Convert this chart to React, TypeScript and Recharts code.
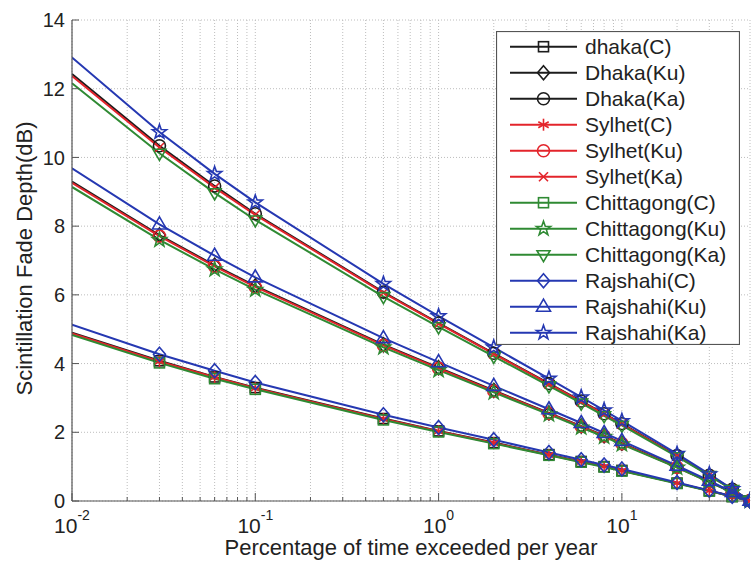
import React from 'react';
import { LineChart, Line, XAxis, YAxis, CartesianGrid, Legend } from 'recharts';

// percentage of time exceeded per year
const percent = [0.01, 0.03, 0.06, 0.1, 0.5, 1, 2, 4, 6, 8, 10, 20, 30, 40, 50];

// C band
const dhakaC = [4.9, 4.08, 3.61, 3.3, 2.4, 2.04, 1.7, 1.35, 1.15, 1.0, 0.89, 0.52, 0.3, 0.13, 0.0];
const sylhetC = [4.88, 4.06, 3.6, 3.28, 2.39, 2.03, 1.69, 1.34, 1.14, 1.0, 0.88, 0.52, 0.3, 0.13, 0.0];
const chittagongC = [4.83, 4.02, 3.56, 3.25, 2.36, 2.01, 1.67, 1.33, 1.13, 0.99, 0.87, 0.51, 0.29, 0.13, 0.0];
const rajshahiC = [5.13, 4.27, 3.79, 3.45, 2.51, 2.14, 1.78, 1.41, 1.2, 1.05, 0.93, 0.54, 0.31, 0.14, 0.0];

// Ku band
const dhakaKu = [9.3, 7.74, 6.86, 6.26, 4.55, 3.88, 3.22, 2.56, 2.18, 1.9, 1.68, 0.99, 0.56, 0.25, 0.01];
const sylhetKu = [9.26, 7.71, 6.83, 6.23, 4.53, 3.86, 3.2, 2.55, 2.17, 1.89, 1.67, 0.98, 0.56, 0.25, 0.01];
const chittagongKu = [9.14, 7.6, 6.74, 6.15, 4.47, 3.81, 3.16, 2.52, 2.14, 1.87, 1.65, 0.97, 0.55, 0.25, 0.01];
const rajshahiKu = [9.68, 8.05, 7.14, 6.51, 4.74, 4.04, 3.35, 2.67, 2.27, 1.98, 1.75, 1.03, 0.59, 0.26, 0.01];

// Ka band
const dhakaKa = [12.43, 10.34, 9.17, 8.36, 6.08, 5.18, 4.3, 3.42, 2.91, 2.54, 2.25, 1.32, 0.75, 0.34, 0.01];
const sylhetKa = [12.37, 10.29, 9.12, 8.33, 6.06, 5.16, 4.28, 3.41, 2.89, 2.53, 2.24, 1.31, 0.75, 0.34, 0.01];
const chittagongKa = [12.16, 10.12, 8.97, 8.18, 5.95, 5.07, 4.21, 3.35, 2.85, 2.48, 2.2, 1.29, 0.74, 0.33, 0.01];
const rajshahiKa = [12.91, 10.74, 9.52, 8.69, 6.32, 5.38, 4.47, 3.56, 3.02, 2.64, 2.33, 1.37, 0.78, 0.35, 0.01];

const xTicks = [
  0.01, 0.02, 0.03, 0.04, 0.05, 0.06, 0.07, 0.08, 0.09,
  0.1, 0.2, 0.3, 0.4, 0.5, 0.6, 0.7, 0.8, 0.9,
  1, 2, 3, 4, 5, 6, 7, 8, 9,
  10, 20, 30, 40,
];
const decades = [0.01, 0.1, 1, 10];
const decadeExps = ['-2', '-1', '0', '1'];
const yTicks = [0, 2, 4, 6, 8, 10, 12, 14];

const BLACK = '#1c1c1c';
const RED = '#e3242b';
const GREEN = '#2f8a33';
const BLUE = '#2538b2';
const AXIS = '#555555';
const FONT = '"Liberation Sans", Arial, Helvetica, sans-serif';

const series = [
  { key: 'dhakaC', name: 'dhaka(C)', values: dhakaC, color: BLACK, marker: 'square' },
  { key: 'dhakaKu', name: 'Dhaka(Ku)', values: dhakaKu, color: BLACK, marker: 'diamond' },
  { key: 'dhakaKa', name: 'Dhaka(Ka)', values: dhakaKa, color: BLACK, marker: 'circle' },
  { key: 'sylhetC', name: 'Sylhet(C)', values: sylhetC, color: RED, marker: 'asterisk' },
  { key: 'sylhetKu', name: 'Sylhet(Ku)', values: sylhetKu, color: RED, marker: 'circle' },
  { key: 'sylhetKa', name: 'Sylhet(Ka)', values: sylhetKa, color: RED, marker: 'x' },
  { key: 'chittagongC', name: 'Chittagong(C)', values: chittagongC, color: GREEN, marker: 'square' },
  { key: 'chittagongKu', name: 'Chittagong(Ku)', values: chittagongKu, color: GREEN, marker: 'star' },
  { key: 'chittagongKa', name: 'Chittagong(Ka)', values: chittagongKa, color: GREEN, marker: 'triDown' },
  { key: 'rajshahiC', name: 'Rajshahi(C)', values: rajshahiC, color: BLUE, marker: 'diamond' },
  { key: 'rajshahiKu', name: 'Rajshahi(Ku)', values: rajshahiKu, color: BLUE, marker: 'triUp' },
  { key: 'rajshahiKa', name: 'Rajshahi(Ka)', values: rajshahiKa, color: BLUE, marker: 'star' },
];

const rows = percent.map((p, i) => {
  const row: Record<string, number> = { p };
  series.forEach((s) => {
    row[s.key] = s.values[i];
  });
  return row;
});

function Marker({ kind, cx, cy, color }: { kind: string; cx: number; cy: number; color: string }) {
  const st = { fill: 'none', stroke: color, strokeWidth: 1.6 };
  switch (kind) {
    case 'square':
      return <rect x={cx - 5} y={cy - 5} width={10} height={10} {...st} />;
    case 'diamond':
      return <polygon points={`${cx},${cy - 7} ${cx + 6},${cy} ${cx},${cy + 7} ${cx - 6},${cy}`} {...st} />;
    case 'circle':
      return <circle cx={cx} cy={cy} r={6} {...st} />;
    case 'asterisk':
      return (
        <g {...st}>
          <line x1={cx} y1={cy - 6} x2={cx} y2={cy + 6} />
          <line x1={cx - 5.2} y1={cy - 3} x2={cx + 5.2} y2={cy + 3} />
          <line x1={cx - 5.2} y1={cy + 3} x2={cx + 5.2} y2={cy - 3} />
        </g>
      );
    case 'x':
      return (
        <g {...st}>
          <line x1={cx - 4.5} y1={cy - 4.5} x2={cx + 4.5} y2={cy + 4.5} />
          <line x1={cx - 4.5} y1={cy + 4.5} x2={cx + 4.5} y2={cy - 4.5} />
        </g>
      );
    case 'star': {
      const pts = [];
      for (let k = 0; k < 10; k++) {
        const a = ((-90 + 36 * k) * Math.PI) / 180;
        const r = k % 2 === 0 ? 7.5 : 3;
        pts.push(`${cx + r * Math.cos(a)},${cy + r * Math.sin(a)}`);
      }
      return <polygon points={pts.join(' ')} {...st} />;
    }
    case 'triDown':
      return <polygon points={`${cx - 6.5},${cy - 4} ${cx + 6.5},${cy - 4} ${cx},${cy + 7}`} {...st} />;
    case 'triUp':
      return <polygon points={`${cx},${cy - 7.5} ${cx + 7},${cy + 4.5} ${cx - 7},${cy + 4.5}`} {...st} />;
    default:
      return <g />;
  }
}

const BottomTick = (props: any) => {
  const { x, y, payload } = props;
  const di = decades.indexOf(payload.value);
  const major = di >= 0;
  return (
    <g>
      <line x1={x} x2={x} y1={y} y2={y - (major ? 8 : 4)} stroke={AXIS} />
      {major && (
        <text x={x} y={y + 32} textAnchor="middle" fontSize={21} fill="#222" fontFamily={FONT}>
          <tspan>10</tspan>
          <tspan dy={-13} fontSize={14}>{decadeExps[di]}</tspan>
        </text>
      )}
    </g>
  );
};

const TopTick = (props: any) => {
  const { x, y, payload } = props;
  const major = decades.indexOf(payload.value) >= 0;
  return <line x1={x} x2={x} y1={y} y2={y + (major ? 8 : 4)} stroke={AXIS} />;
};

const LeftTick = (props: any) => {
  const { x, y, payload } = props;
  return (
    <g>
      <line x1={x} x2={x + 7} y1={y} y2={y} stroke={AXIS} />
      <text x={x - 7} y={y} dy="0.36em" textAnchor="end" fontSize={20} fill="#222" fontFamily={FONT}>
        {payload.value}
      </text>
    </g>
  );
};

const RightTick = (props: any) => {
  const { x, y } = props;
  return <line x1={x} x2={x - 7} y1={y} y2={y} stroke={AXIS} />;
};

const LegendBox = () => (
  <svg width={244} height={314} style={{ display: 'block' }}>
    <rect x={0.5} y={0.5} width={243} height={313} fill="#fff" stroke={AXIS} strokeWidth={1.2} />
    {series.map((s, i) => {
      const y = 15.7 + i * 26;
      return (
        <g key={s.key}>
          <line x1={14} x2={81} y1={y} y2={y} stroke={s.color} strokeWidth={2} />
          <Marker kind={s.marker} cx={47.5} cy={y} color={s.color} />
          <text x={89} y={y} dy="0.36em" fontSize={21} fill="#222" fontFamily={FONT}>
            {s.name}
          </text>
        </g>
      );
    })}
  </svg>
);

export default function App() {
  return (
    <div style={{ width: 751, height: 565, position: 'relative', background: '#fff' }}>
      <style>{'body{margin:0}'}</style>
      <LineChart width={751} height={565} data={rows} margin={{ top: 20, right: 1, bottom: 0, left: 0 }}>
        <CartesianGrid stroke="#bdbdbd" strokeDasharray="1 2" />
        <XAxis
          dataKey="p"
          type="number"
          scale="log"
          domain={[0.01, 50]}
          allowDataOverflow
          ticks={xTicks}
          interval={0}
          height={64}
          tickSize={0}
          tickMargin={0}
          tick={BottomTick}
          axisLine={{ stroke: AXIS, strokeWidth: 1.2 }}
        />
        <XAxis
          xAxisId="top"
          orientation="top"
          dataKey="p"
          type="number"
          scale="log"
          domain={[0.01, 50]}
          allowDataOverflow
          ticks={xTicks}
          interval={0}
          height={0}
          tickSize={0}
          tickMargin={0}
          tick={TopTick}
          axisLine={{ stroke: AXIS, strokeWidth: 1.2 }}
        />
        <YAxis
          type="number"
          domain={[0, 14]}
          ticks={yTicks}
          interval={0}
          width={72}
          tickSize={0}
          tickMargin={0}
          tick={LeftTick}
          axisLine={{ stroke: AXIS, strokeWidth: 1.2 }}
          label={(props: any) => {
            const vb = props.viewBox || { x: 0, y: 20, width: 72, height: 481 };
            const cx = vb.x + 32;
            const cy = vb.y + vb.height / 2 - 2;
            return (
              <text
                x={cx}
                y={cy}
                textAnchor="middle"
                fontSize={22}
                fill="#222"
                fontFamily={FONT}
                transform={`rotate(-90, ${cx}, ${cy})`}
              >
                Scintillation Fade Depth(dB)
              </text>
            );
          }}
        />
        <YAxis
          yAxisId="right"
          orientation="right"
          type="number"
          domain={[0, 14]}
          ticks={yTicks}
          interval={0}
          width={0}
          tickSize={0}
          tickMargin={0}
          tick={RightTick}
          axisLine={{ stroke: AXIS, strokeWidth: 1.2 }}
        />
        {series.map((s) => (
          <Line
            key={s.key}
            dataKey={s.key}
            name={s.name}
            type="linear"
            stroke={s.color}
            strokeWidth={2}
            isAnimationActive={false}
            activeDot={false}
            dot={(props: any) => {
              const { cx, cy, index } = props;
              if (index === 0 || cx == null || cy == null) return <g key={`${s.key}-${index}`} />;
              return <Marker key={`${s.key}-${index}`} kind={s.marker} cx={cx} cy={cy} color={s.color} />;
            }}
          />
        ))}
        <Legend
          layout="vertical"
          align="center"
          verticalAlign="middle"
          content={() => <LegendBox />}
          wrapperStyle={{ position: 'absolute', top: 31, left: 496, width: 244, height: 314 }}
        />
      </LineChart>
      <div
        style={{
          position: 'absolute',
          left: 72,
          width: 678,
          top: 536,
          textAlign: 'center',
          fontFamily: FONT,
          fontSize: 22,
          color: '#222',
          lineHeight: '24px',
        }}
      >
        Percentage of time exceeded per year
      </div>
    </div>
  );
}
